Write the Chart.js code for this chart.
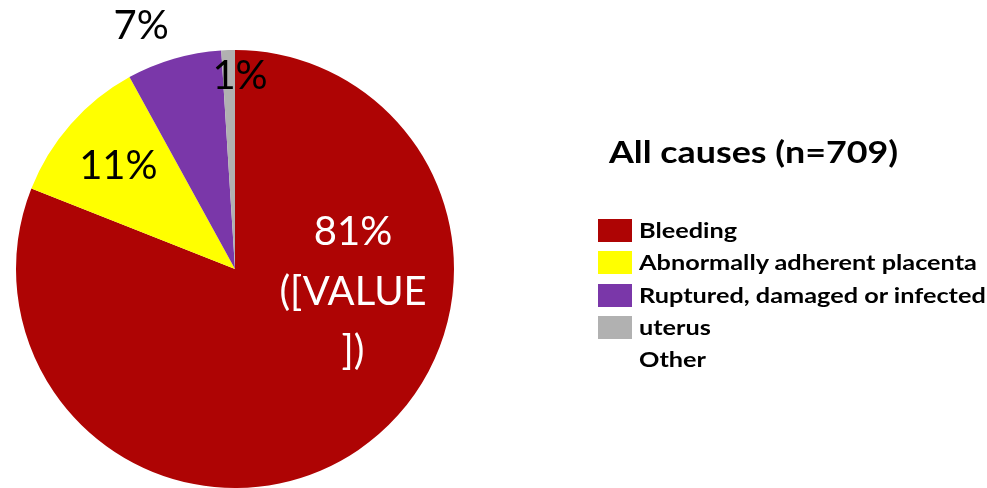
<!DOCTYPE html>
<html>
<head>
<meta charset="utf-8">
<script src="https://cdn.jsdelivr.net/npm/chart.js@4.4.1/dist/chart.umd.min.js"></script>
<style>
  html, body { margin: 0; padding: 0; background: #ffffff; }
  #wrap { position: relative; width: 987px; height: 488px; overflow: hidden; }
  canvas { position: absolute; left: 0; top: 0; }
  #title { position: absolute; left: 609px; top: 133px; font-family: Lato, "Open Sans", sans-serif; font-weight: bold; font-size: 30px; color: #000; white-space: nowrap; transform: scaleX(1.194); transform-origin: 0 0; }
  #legend { position: absolute; left: 598px; top: 215px; font-family: Lato, "Open Sans", sans-serif; font-weight: bold; font-size: 21px; color: #000; }
  .row { position: relative; height: 32.3px; white-space: nowrap; }
  .sw { position: absolute; left: 0; top: 4px; width: 34px; height: 23px; }
  .tx { position: absolute; left: 41px; top: 1px; line-height: 28px; transform: scaleX(1.204); transform-origin: 0 0; }
</style>
</head>
<body>
<div id="wrap">
  <canvas id="c" width="987" height="488"></canvas>
  <div id="title"></div>
  <div id="legend"></div>
</div>
<script>
// ---- data ----
const categories = ["Bleeding", "Abnormally adherent placenta", "Ruptured, damaged or infected uterus", "Other"];
const values = [81, 11, 7, 1];
const sliceColors = ["#AE0404", "#FFFF00", "#7A37A9", "#B1B1B1"];
const valueLabels = [["81%", "([VALUE", "])"], ["11%"], ["7%"], ["1%"]];
const labelColors = ["#FFFFFF", "#000000", "#000000", "#000000"];
const titleText = "All causes (n=709)";
const legendLines = ["Bleeding", "Abnormally adherent placenta", "Ruptured, damaged or infected", "uterus", "Other"];

// ---- legend (HTML) ----
document.getElementById("title").textContent = titleText;
const leg = document.getElementById("legend");
legendLines.forEach((t, i) => {
  const row = document.createElement("div");
  row.className = "row";
  if (i < sliceColors.length) {
    const sw = document.createElement("div");
    sw.className = "sw";
    sw.style.background = sliceColors[i];
    row.appendChild(sw);
  }
  const tx = document.createElement("div");
  tx.className = "tx";
  tx.textContent = t;
  row.appendChild(tx);
  leg.appendChild(row);
});

// label placement relative to each arc: angle shift (deg) from mid-angle, radius fraction
const labelPlacement = [
  { da: -44.8, rf: 0.549 },
  { da: 0, rf: 0.71 },
  { da: -4.9, rf: 1.19 },
  { da: 3.3, rf: 0.88 }
];

const sliceLabels = {
  id: "sliceLabels",
  afterDatasetsDraw(chart) {
    const ctx = chart.ctx;
    const meta = chart.getDatasetMeta(0);
    ctx.save();
    ctx.font = "40px Lato, 'Open Sans', sans-serif";
    ctx.textAlign = "center";
    ctx.textBaseline = "middle";
    meta.data.forEach((arc, i) => {
      const p = arc.getProps(["x", "y", "startAngle", "endAngle", "outerRadius"], true);
      const mid = (p.startAngle + p.endAngle) / 2 + labelPlacement[i].da * Math.PI / 180;
      const r = p.outerRadius * labelPlacement[i].rf;
      const cx = p.x + Math.cos(mid) * r;
      const cy = p.y + Math.sin(mid) * r;
      const lines = valueLabels[i];
      const lh = 59.5;
      ctx.fillStyle = labelColors[i];
      lines.forEach((ln, k) => {
        ctx.fillText(ln, cx, cy + (k - (lines.length - 1) / 2) * lh);
      });
    });
    ctx.restore();
  }
};

new Chart(document.getElementById("c"), {
  type: "pie",
  data: {
    labels: categories,
    datasets: [{
      data: values,
      backgroundColor: sliceColors,
      borderWidth: 0
    }]
  },
  options: {
    responsive: false,
    animation: false,
    layout: { padding: { left: 16, right: 533, top: 50, bottom: 0 } },
    plugins: {
      legend: { display: false },
      tooltip: { enabled: false },
      title: { display: false }
    }
  },
  plugins: [sliceLabels]
});
</script>
</body>
</html>
